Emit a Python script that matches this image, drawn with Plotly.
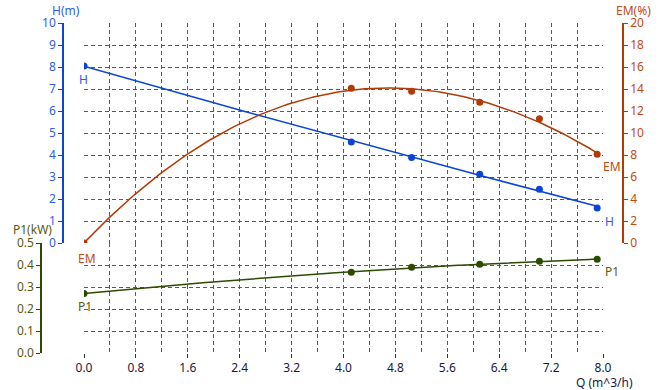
import numpy as np
import plotly.graph_objects as go

# ---- data ----
q = [0.0, 4.12, 5.05, 6.10, 7.02, 7.91]
head_m = [8.05, 4.59, 3.89, 3.12, 2.44, 1.59]
em_pct = [0.0, 14.06, 13.8, 12.8, 11.3, 8.06]
p1_kw = [0.271, 0.367, 0.390, 0.403, 0.417, 0.426]

x_ticks = [0.0, 0.8, 1.6, 2.4, 3.2, 4.0, 4.8, 5.6, 6.4, 7.2, 8.0]

W, H = 660, 390
FONT = "Noto Sans"
C_H = "#0a45d8"
C_H_TXT = "#2f5cf0"
C_EM = "#b23a06"
C_EM_TXT = "#c24a10"
C_P1 = "#2c4a00"
C_P1_TXT = "#5a5a10"
C_X_TXT = "#1a1a40"
GRID = "#5a5a5a"
DASH = "4px,3px"


def px_x(p):
    return p / W


def px_y(p):
    return 1 - p / H


def fit_curve(x, y, deg):
    coef = np.polyfit(x, y, deg)
    xs = np.linspace(min(x), max(x), 200)
    return xs, np.polyval(coef, xs)


fig = go.Figure()

xs, ys = fit_curve(q, head_m, 2)
fig.add_trace(go.Scatter(x=xs, y=ys, mode="lines", line=dict(color=C_H, width=1.5),
                         xaxis="x", yaxis="y", hoverinfo="skip"))
fig.add_trace(go.Scatter(x=q, y=head_m, mode="markers", marker=dict(color=C_H, size=7),
                         xaxis="x", yaxis="y"))

xs, ys = fit_curve(q, em_pct, 3)
fig.add_trace(go.Scatter(x=xs, y=ys, mode="lines", line=dict(color=C_EM, width=1.5),
                         xaxis="x", yaxis="y2", hoverinfo="skip"))
fig.add_trace(go.Scatter(x=q, y=em_pct, mode="markers", marker=dict(color=C_EM, size=7),
                         xaxis="x", yaxis="y2"))

xs, ys = fit_curve(q, p1_kw, 2)
fig.add_trace(go.Scatter(x=xs, y=ys, mode="lines", line=dict(color=C_P1, width=1.5),
                         xaxis="x", yaxis="y3", hoverinfo="skip"))
fig.add_trace(go.Scatter(x=q, y=p1_kw, mode="markers", marker=dict(color=C_P1, size=7),
                         xaxis="x", yaxis="y3"))

tickfont = dict(family=FONT, size=12)

fig.update_layout(
    width=W, height=H,
    margin=dict(l=0, r=0, t=0, b=0, autoexpand=False),
    paper_bgcolor="white", plot_bgcolor="white",
    showlegend=False,
    xaxis=dict(
        domain=[px_x(84), px_x(603)], range=[0, 8], anchor="y3", automargin=False,
        tickvals=x_ticks, ticktext=[f"{v:.1f}" for v in x_ticks],
        ticks="outside", ticklen=4, tickcolor="#333333",
        tickfont=dict(tickfont, color=C_X_TXT),
        showline=False, zeroline=False,
        showgrid=True, gridcolor=GRID, griddash=DASH, gridwidth=1,
        minor=dict(dtick=0.4, showgrid=True, gridcolor=GRID, griddash=DASH, gridwidth=1),
    ),
    yaxis=dict(
        domain=[px_y(243), px_y(23)], range=[0, 10], dtick=1, automargin=False,
        anchor="free", position=px_x(63),
        showline=True, linecolor=C_H, linewidth=1.5,
        ticks="outside", ticklen=4, tickcolor=C_H,
        tickfont=dict(tickfont, color=C_H_TXT),
        showgrid=True, gridcolor=GRID, griddash=DASH, gridwidth=1,
        zeroline=False,
    ),
    yaxis2=dict(
        overlaying="y", side="right", range=[0, 20], dtick=2, automargin=False,
        anchor="free", position=px_x(623),
        showline=True, linecolor=C_EM, linewidth=1.5,
        ticks="outside", ticklen=4, tickcolor=C_EM,
        tickfont=dict(tickfont, color=C_EM_TXT),
        showgrid=False, zeroline=False,
    ),
    yaxis3=dict(
        domain=[px_y(353), px_y(243)], range=[0, 0.5], dtick=0.1, tickformat=".1f",
        automargin=False,
        anchor="free", position=px_x(41),
        showline=True, linecolor=C_P1, linewidth=1.5,
        ticks="outside", ticklen=4, tickcolor=C_P1,
        tickfont=dict(tickfont, color=C_P1_TXT),
        showgrid=True, gridcolor=GRID, griddash=DASH, gridwidth=1,
        zeroline=False,
    ),
)

ann = []


def title_ann(text, cx, cy, color):
    return dict(text=text, xref="paper", yref="paper", x=px_x(cx), y=px_y(cy),
                xanchor="center", yanchor="middle", showarrow=False, borderpad=0,
                font=dict(family=FONT, size=12, color=color))


# axis titles
ann.append(title_ann("H(m)", 66, 10, C_H_TXT))
ann.append(title_ann("EM(%)", 633, 10, C_EM_TXT))
ann.append(title_ann("P1(kW)", 32, 229, C_P1_TXT))
ann.append(title_ann("Q (m^3/h)", 604, 382, C_X_TXT))


# curve labels
def curve_label(text, yref, xv, yv, dx, dy, color):
    return dict(text=text, xref="x", yref=yref, x=xv, y=yv, xshift=dx, yshift=dy,
                xanchor="center", yanchor="middle",
                showarrow=False, font=dict(family=FONT, size=12, color=color))


ann.append(curve_label("H", "y", q[0], head_m[0], 0, -14, C_H_TXT))
ann.append(curve_label("H", "y", q[-1], head_m[-1], 12, -13, C_H_TXT))
ann.append(curve_label("EM", "y2", q[0], em_pct[0], 3, -15, C_EM_TXT))
ann.append(curve_label("EM", "y2", q[-1], em_pct[-1], 15, -12, C_EM_TXT))
ann.append(curve_label("P1", "y3", q[0], p1_kw[0], 1, -13, C_P1_TXT))
ann.append(curve_label("P1", "y3", q[-1], p1_kw[-1], 15, -12, C_P1_TXT))

fig.update_layout(annotations=ann)

# remove the browser's default 8px body margin so the figure fills the window
fig.write_html("out.html",
               config={"displayModeBar": False},
               post_script="document.body.style.margin='0';document.body.style.overflow='hidden';")
